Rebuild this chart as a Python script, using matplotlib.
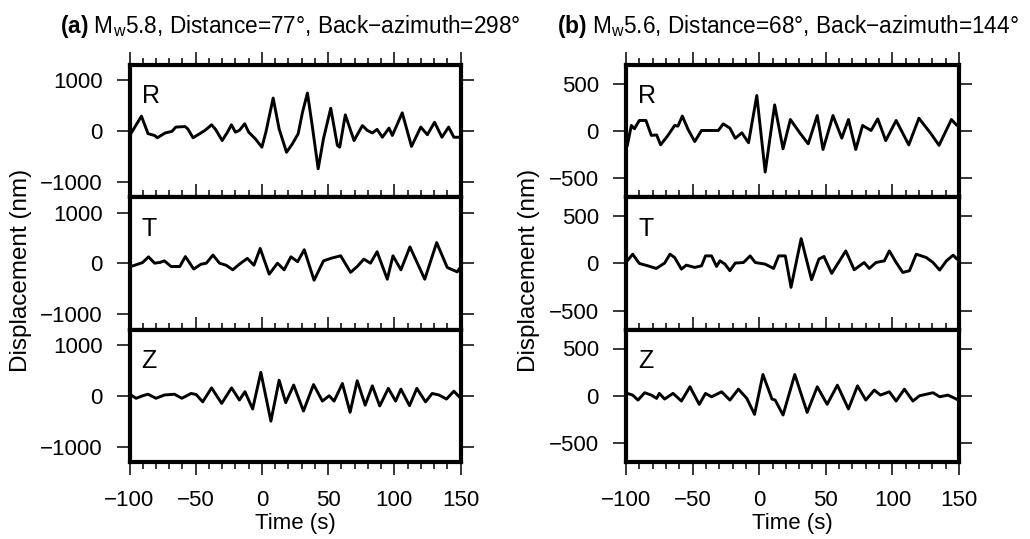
import matplotlib.pyplot as plt
from matplotlib.ticker import MultipleLocator

plt.rcParams['font.family'] = ['Liberation Sans', 'DejaVu Sans']
plt.rcParams['mathtext.fontset'] = 'custom'
plt.rcParams['mathtext.rm'] = 'Liberation Sans'
plt.rcParams['mathtext.bf'] = 'Liberation Sans:bold'

# ---- event (a) : Mw5.8, 77 deg, baz 298 ----
a_R_time = [-99, -91, -86, -81, -79, -73, -68, -65, -58, -56, -52, -47, -43, -38, -35, -30, -26,
            -23, -20, -17, -13, -10, -5, 0, 3, 8.5, 13, 18.6, 23, 27.4, 30.7, 34.4, 38, 42.5, 46.5,
            52, 57, 58.8, 63, 69.6, 75.9, 79.6, 83.4, 87, 91, 96, 98.5, 106, 113, 120, 125, 130.4,
            136, 141, 145, 149]
a_R_disp = [-50, 295, -50, -85, -130, -35, -5, 80, 90, 45, -130, -50, 15, 125, 35, -185, -20,
            125, -20, 15, 145, -20, -150, -315, -20, 650, 45, -415, -250, -50, 375, 750, 110, -740, -150,
            450, -280, -315, 320, -185, 110, 15, -35, 35, -120, 60, -85, 360, -300, 80, -70, 175,
            -120, 80, -120, -120]

a_T_time = [-99, -93.7, -90, -85.7, -81, -77, -73.6, -68.6, -62, -57.8, -51.5, -46, -42, -37, -32,
            -27, -22, -17, -11, -6, -1.3, 5.5, 11.8, 16.8, 21.9, 27, 32, 39.4, 46.5, 52, 59.5, 67,
            72, 77, 82, 87, 94.7, 99, 105, 111.8, 123, 132, 140, 147.5, 149]
a_T_disp = [-60, -15, 20, 130, 5, 20, 50, -60, -60, 135, -110, -15, 5, 165, 5,
            -35, -125, -15, 100, -35, 295, -210, 5, -125, 130, 35, 270, -330, 50, 100, 150, -175,
            -60, 85, 5, 230, -310, 150, -125, 325, -310, 410, -80, -165, -110]

a_Z_time = [-99, -95, -90, -86, -80, -73.6, -66, -60.5, -53.5, -49.7, -44.7, -38, -30.4, -22.9,
            -17, -12.8, -7, -0.8, 6.8, 13, 18, 24, 31.4, 39, 45.7, 50.8, 54.5, 60.8, 66.6, 72,
            78, 83.4, 89, 95.5, 101, 105, 111.5, 117, 123.6, 128.6, 133.7, 139.4, 145, 149]
a_Z_disp = [15, -50, 0, 30, -50, 15, 30, -50, 45, 25, -120, 155, -150, 155,
            -85, 80, -260, 460, -500, 305, -135, 210, -300, 220, -105, 0, -105, 240, -325, 295,
            -185, 195, -200, 145, -105, 130, -195, 145, -120, 45, 15, -65, 90, -20]

# ---- event (b) : Mw5.6, 68 deg, baz 144 ----
b_R_time = [-99, -96, -93.7, -90, -85, -81, -77, -74, -68.5, -63.5, -61, -57.7, -53.4, -48.4,
            -43.3, -38.3, -30.7, -27, -22, -18, -13, -8, -1.8, 4.5, 11.6, 17.9, 23.4, 31, 36.8,
            43.6, 47.9, 55.4, 62, 67, 72.5, 77.6, 84, 89, 95, 102.8, 112.3, 119.9, 129, 135,
            144.3, 148]
b_R_disp = [-150, 60, 25, 113, 113, -45, -40, -145, -45, 60, 53, 160, 18, -110,
            7, 7, 7, 77, 32, -75, -18, -123, 377, -433, 278, -187, 123, -28, -134,
            165, -194, 165, -74, 123, -194, 60, 7, 130, -100, 113, -145, 137, -28, -150,
            123, 67]

b_T_time = [-99, -95, -90, -83.6, -77.3, -71, -67, -63.5, -58.4, -54.7, -48.4, -43.3, -40.3,
            -35.8, -32, -29.5, -25.7, -22, -18, -11.8, -6.8, -3, 4.5, 10.8, 14.6, 19.6, 23.9,
            31.5, 39.3, 44.8, 48.6, 54.4, 65, 71.3, 78.8, 82.6, 87.7, 94, 97.7, 102.8, 107.8,
            112.8, 117.9, 125.4, 130.5, 135.5, 140.6, 145.6, 148]
b_T_disp = [28, 98, 0, -25, -53, 4, 98, 63, -60, -18, -42, -25, 80,
            80, -32, 28, -7, -77, 4, 10, 80, 10, -7, -53, 80, 80, -253,
            263, -172, 46, 74, -105, 133, -67, 10, -53, 10, 28, 133, 10, -95,
            -77, 98, 63, 10, -70, 28, 88, 53]

b_Z_time = [-99, -95, -91, -86, -81, -77, -75, -71, -64.7, -58.4, -52, -45, -40.3, -35.8,
            -28.2, -22, -15.6, -9.3, -3.5, 2.8, 9.6, 12, 17.9, 26.7, 36, 43.6, 51, 58.7, 67,
            73.8, 80, 86.4, 91, 97.7, 102.8, 109, 115.4, 120.4, 130.5, 135.5, 141.8, 148]
b_Z_disp = [25, 7, -46, 32, 7, -28, 25, -35, 25, -56, 95, -91, 25, -11,
            42, -46, 70, -28, -197, 225, -35, -46, -204, 225, -176, 95, -91, 112, -140,
            105, -46, 60, 7, 42, -56, 70, -56, 0, 32, -11, 7, -35]

titles = [r'$\mathbf{(a)}$ M$_\mathrm{w}$5.8, Distance=77°, Back' + '\u2212' + 'azimuth=298°',
          r'$\mathbf{(b)}$ M$_\mathrm{w}$5.6, Distance=68°, Back' + '\u2212' + 'azimuth=144°']
components = ['R', 'T', 'Z']
ylims = [1300, 700]
ysteps = [1000, 500]
ylabel_off = [108, 97]
traces = [[(a_R_time, a_R_disp), (a_T_time, a_T_disp), (a_Z_time, a_Z_disp)],
          [(b_R_time, b_R_disp), (b_T_time, b_T_disp), (b_Z_time, b_Z_disp)]]

W, H = 1030, 539
fig = plt.figure(figsize=(W / 100, H / 100), dpi=100)

cols = [(129.5, 460.5), (626, 959)]
top = 65
ph = 132.3

for c, (x0, x1) in enumerate(cols):
    for r in range(3):
        ytop = top + r * ph
        ax = fig.add_axes([x0 / W, 1 - (ytop + ph) / H, (x1 - x0) / W, ph / H])
        t, d = traces[c][r]
        ax.plot(t, d, color='black', lw=2.1, solid_joinstyle='round')
        ax.set_xlim(-100, 150)
        ax.set_ylim(-ylims[c], ylims[c])
        ax.xaxis.set_major_locator(MultipleLocator(50))
        ax.xaxis.set_minor_locator(MultipleLocator(10))
        ax.yaxis.set_major_locator(MultipleLocator(ysteps[c]))
        for s in ax.spines.values():
            s.set_linewidth(3)
        ax.tick_params(which='both', direction='out', top=True, right=True,
                       labelsize=16, width=1.1)
        ax.tick_params(which='major', length=9.5, pad=10)
        ax.tick_params(axis='x', which='major', pad=11)
        ax.tick_params(which='minor', length=5)
        if r < 2:
            ax.tick_params(labelbottom=False)
        ax.text(0.037, 0.71, components[r], transform=ax.transAxes,
                fontsize=18, va='baseline', ha='left')
        if r == 2:
            ax.set_xlabel('Time (s)', fontsize=16, labelpad=1)
    cx = ((x0 + x1) / 2 - 5) / W
    fig.text(cx, 1 - 33 / H, titles[c], ha='center', va='baseline', fontsize=16.3)
    fig.text((x0 - ylabel_off[c]) / W, 1 - 270 / H, 'Displacement (nm)', rotation=90,
             ha='center', va='center', fontsize=17.5)

fig.savefig('out.png', dpi=100)
